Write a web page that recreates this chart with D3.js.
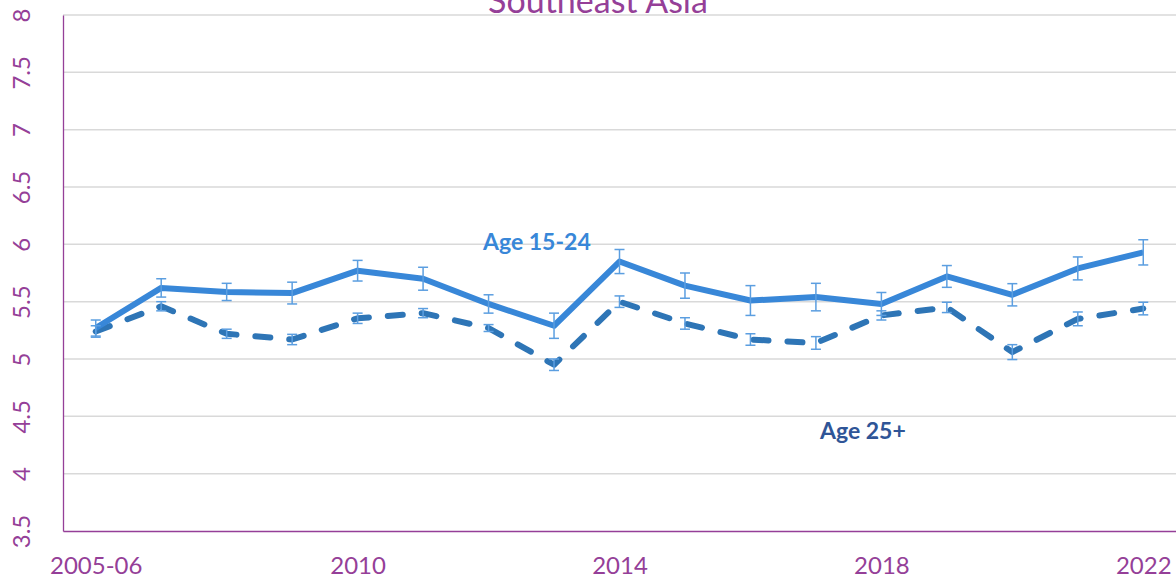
<!DOCTYPE html>
<html><head><meta charset="utf-8">
<script src="https://cdn.jsdelivr.net/npm/d3@7"></script>
<style>body{margin:0;background:#fff;overflow:hidden}svg{display:block}</style>
</head><body>
<svg id="c" width="1176" height="582"></svg>
<script>
const categories = ["2005-06","2007","2008","2009","2010","2011","2012","2013","2014","2015","2016","2017","2018","2019","2020","2021","2022"];
const tickLabels = ["2005-06","2010","2014","2018","2022"];
const yTicks = [3.5,4,4.5,5,5.5,6,6.5,7,7.5,8];
const age1524 = [5.27,5.62,5.585,5.575,5.77,5.70,5.48,5.29,5.85,5.64,5.51,5.54,5.48,5.72,5.56,5.79,5.93];
const age1524Err = [0.07,0.08,0.075,0.095,0.09,0.10,0.08,0.11,0.105,0.11,0.13,0.12,0.10,0.095,0.097,0.10,0.11];
const age25 = [5.24,5.46,5.22,5.17,5.355,5.40,5.27,4.95,5.50,5.31,5.17,5.14,5.38,5.45,5.06,5.35,5.44];
const age25Err = [0.05,0.04,0.04,0.045,0.045,0.04,0.03,0.05,0.05,0.05,0.05,0.055,0.04,0.045,0.065,0.06,0.055];

const svg = d3.select("#c");
const purple = "#953f98";
const font = "Lato, 'Open Sans', sans-serif";
const x = d3.scalePoint().domain(categories).range([63,1176]).padding(0.5);
const y = d3.scaleLinear().domain([3.5,8]).range([531,15]);

// gridlines
svg.append("g").selectAll("line").data(yTicks.filter(d=>d>3.5)).join("line")
  .attr("x1",63).attr("x2",1176).attr("y1",d=>y(d)).attr("y2",d=>y(d))
  .attr("stroke","#d9d9d9").attr("stroke-width",1.5);

// title
svg.append("text").attr("x",598).attr("y",13).attr("text-anchor","middle")
  .attr("font-family",font).attr("font-size",34).attr("fill",purple).text("Southeast Asia");

// axes
const yAxis = svg.append("g").attr("transform","translate(63,0)")
  .call(d3.axisLeft(y).tickValues(yTicks).tickSize(0).tickFormat(d3.format("")));
yAxis.select(".domain").attr("stroke",purple).attr("stroke-width",1.3);
yAxis.selectAll("text").attr("font-family",font).attr("font-size",24).attr("fill",purple)
  .attr("x",0).attr("y",0).attr("dy","0.35em").attr("text-anchor","middle")
  .attr("transform","translate(-41,0) rotate(-90)");

const xAxis = svg.append("g").attr("transform","translate(0,531)")
  .call(d3.axisBottom(x).tickValues(tickLabels).tickSize(0));
xAxis.select(".domain").attr("stroke",purple).attr("stroke-width",1.3);
xAxis.selectAll("text").attr("font-family",font).attr("font-size",24).attr("fill",purple).attr("y",26);

// lines
const line = d3.line().x((d,i)=>x(categories[i])).y(d=>y(d));
svg.append("path").datum(age25).attr("d",line).attr("fill","none")
  .attr("stroke","#2e75b6").attr("stroke-width",6).attr("stroke-dasharray","15,19")
  .attr("stroke-linecap","round").attr("stroke-linejoin","round");
svg.append("path").datum(age1524).attr("d",line).attr("fill","none")
  .attr("stroke","#3887d8").attr("stroke-width",6).attr("stroke-linejoin","round");

// error bars
function errBars(vals, errs, color){
  const g = svg.append("g").attr("stroke",color).attr("stroke-width",1.5).attr("fill","none");
  vals.forEach((v,i)=>{
    const cx = x(categories[i]);
    const t = y(v+errs[i]), b = y(v-errs[i]);
    g.append("line").attr("x1",cx).attr("x2",cx).attr("y1",t).attr("y2",b);
    g.append("line").attr("x1",cx-5).attr("x2",cx+5).attr("y1",t).attr("y2",t);
    g.append("line").attr("x1",cx-5).attr("x2",cx+5).attr("y1",b).attr("y2",b);
  });
}
errBars(age25, age25Err, "#5b9ee0");
errBars(age1524, age1524Err, "#5b9ee0");

// labels
svg.append("text").attr("x",483).attr("y",250).attr("font-family",font).attr("font-weight","bold")
  .attr("font-size",23).attr("fill","#3887d8").text("Age 15-24");
svg.append("text").attr("x",820).attr("y",439).attr("font-family",font).attr("font-weight","bold")
  .attr("font-size",23).attr("fill","#2f5597").text("Age 25+");
</script>
</body></html>
